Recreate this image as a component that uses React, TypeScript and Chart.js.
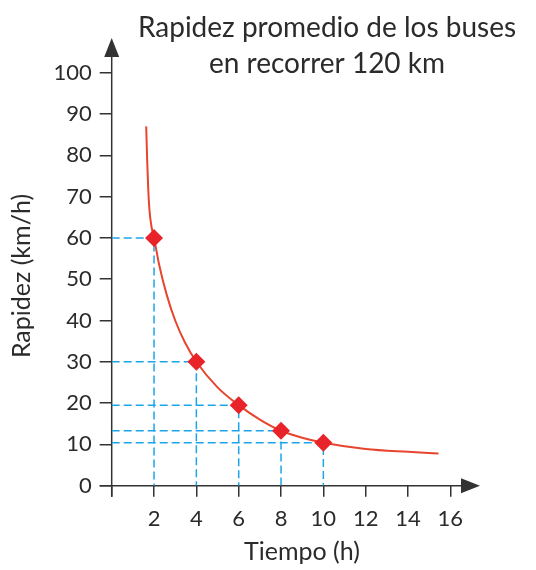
import React, { useEffect, useRef } from "react";
import { Chart, registerables } from "chart.js";

Chart.register(...registerables);

// ---- data ----
const titleLines = ["Rapidez promedio de los buses", "en recorrer 120 km"];
const xTitle = "Tiempo (h)";
const yTitle = "Rapidez (km/h)";
const timeTicks = [0, 2, 4, 6, 8, 10, 12, 14, 16];
const speedTicks = [0, 10, 20, 30, 40, 50, 60, 70, 80, 90, 100];
const times = [2, 4, 6, 8, 10];
const speeds = [60, 30, 19.5, 13.3, 10.4];
const curveTimes = [1.63, 1.675, 1.725, 1.78, 1.87, 2, 2.25, 2.6, 3, 3.45, 4, 5, 6, 7, 8, 9, 10, 12, 14, 15.44];
const curveSpeeds = [87, 79, 72, 67, 63, 60, 53.3, 46.2, 40, 34.8, 30, 23.8, 19.5, 16, 13.3, 11.6, 10.4, 8.9, 8.2, 7.8];
const xMax = 17.4;
const yMax = 108.4;

const FONT = "Lato, 'Open Sans', sans-serif";
const TEXT = "#2b2b2b";
const AXIS = "#333333";
const BLUE = "#1ca4ea";
const RED = "#e8242a";
const CURVE = "#e8452f";

const decorPlugin = {
  id: "decor",
  beforeDatasetsDraw(chart: any) {
    const { ctx, chartArea, scales } = chart;
    const x0 = scales.x.getPixelForValue(0);
    const y0 = scales.y.getPixelForValue(0);
    ctx.save();
    ctx.strokeStyle = AXIS;
    ctx.fillStyle = AXIS;
    ctx.lineWidth = 1.5;
    // x axis
    ctx.beginPath();
    ctx.moveTo(x0 - 12, y0);
    ctx.lineTo(chartArea.right - 15, y0);
    ctx.stroke();
    ctx.beginPath();
    ctx.moveTo(chartArea.right, y0);
    ctx.lineTo(chartArea.right - 19, y0 - 7.5);
    ctx.lineTo(chartArea.right - 19, y0 + 7.5);
    ctx.closePath();
    ctx.fill();
    // y axis
    ctx.beginPath();
    ctx.moveTo(x0, y0 + 11);
    ctx.lineTo(x0, chartArea.top + 15);
    ctx.stroke();
    ctx.beginPath();
    ctx.moveTo(x0, chartArea.top);
    ctx.lineTo(x0 - 7.5, chartArea.top + 19);
    ctx.lineTo(x0 + 7.5, chartArea.top + 19);
    ctx.closePath();
    ctx.fill();
    ctx.restore();
  },
  afterDraw(chart: any) {
    const { ctx } = chart;
    ctx.save();
    ctx.fillStyle = TEXT;
    ctx.textAlign = "center";
    ctx.textBaseline = "alphabetic";
    ctx.font = `28px ${FONT}`;
    ctx.fillText(titleLines[0], 327, 37);
    ctx.fillText(titleLines[1], 327, 73);
    ctx.font = `25px ${FONT}`;
    ctx.fillText(xTitle, 302, 560);
    ctx.translate(30, 276);
    ctx.rotate(-Math.PI / 2);
    ctx.fillText(yTitle, 0, 0);
    ctx.restore();
  },
};

export default function App() {
  const ref = useRef<HTMLCanvasElement | null>(null);

  useEffect(() => {
    let chart: Chart | null = null;
    let cancelled = false;
    const make = () => {
      if (cancelled || !ref.current) return;
      const guides = times.map((t, i) => ({
        type: "line" as const,
        data: [
          { x: 0, y: speeds[i] },
          { x: t, y: speeds[i] },
          { x: t, y: 0 },
        ],
        borderColor: BLUE,
        borderWidth: 1.5,
        borderDash: [8, 4],
        pointRadius: 0,
        tension: 0,
        order: 3,
      }));
      chart = new Chart(ref.current, {
        type: "line",
        data: {
          datasets: [
            {
              data: times.map((t, i) => ({ x: t, y: speeds[i] })),
              showLine: false,
              pointStyle: "rectRot",
              pointRadius: 9,
              pointBackgroundColor: RED,
              pointBorderColor: RED,
              pointBorderWidth: 0,
              order: 1,
              clip: false,
            } as any,
            {
              data: curveTimes.map((t, i) => ({ x: t, y: curveSpeeds[i] })),
              borderColor: CURVE,
              borderWidth: 2,
              pointRadius: 0,
              cubicInterpolationMode: "monotone",
              order: 2,
            },
            ...guides,
          ],
        },
        options: {
          responsive: false,
          animation: false,
          events: [],
          layout: { padding: { top: 38, right: 56, left: 0, bottom: 0 } },
          plugins: {
            legend: { display: false },
            title: { display: false },
            tooltip: { enabled: false },
          },
          scales: {
            x: {
              type: "linear",
              min: 0,
              max: xMax,
              afterBuildTicks: (s: any) => {
                s.ticks = timeTicks.map((v) => ({ value: v }));
              },
              afterFit: (s: any) => {
                s.height = 84.3;
              },
              ticks: {
                autoSkip: false,
                maxRotation: 0,
                padding: 9,
                color: TEXT,
                font: { family: FONT, size: 22 },
                callback: (v: any) => (v === 0 ? "" : String(v)),
              },
              grid: {
                drawOnChartArea: false,
                drawTicks: true,
                tickLength: 11,
                color: AXIS,
                lineWidth: 1.5,
              },
              border: { display: false },
            },
            y: {
              type: "linear",
              min: 0,
              max: yMax,
              afterBuildTicks: (s: any) => {
                s.ticks = speedTicks.map((v) => ({ value: v }));
              },
              afterFit: (s: any) => {
                s.width = 111.7;
              },
              ticks: {
                autoSkip: false,
                padding: 8,
                color: TEXT,
                font: { family: FONT, size: 22 },
                callback: (v: any) => String(v),
              },
              grid: {
                drawOnChartArea: false,
                drawTicks: true,
                tickLength: 12,
                color: AXIS,
                lineWidth: 1.5,
              },
              border: { display: false },
            },
          },
        },
        plugins: [decorPlugin],
      });
    };
    const fonts: any = (document as any).fonts;
    if (fonts && fonts.load) {
      Promise.all([fonts.load(`22px Lato`), fonts.load(`28px Lato`)])
        .catch(() => null)
        .then(make);
    } else {
      make();
    }
    return () => {
      cancelled = true;
      if (chart) chart.destroy();
    };
  }, []);

  return (
    <div style={{ position: "absolute", left: 0, top: 0, width: 536, height: 570, background: "#fff" }}>
      <canvas ref={ref} width={536} height={570} style={{ width: 536, height: 570, display: "block" }} />
    </div>
  );
}
